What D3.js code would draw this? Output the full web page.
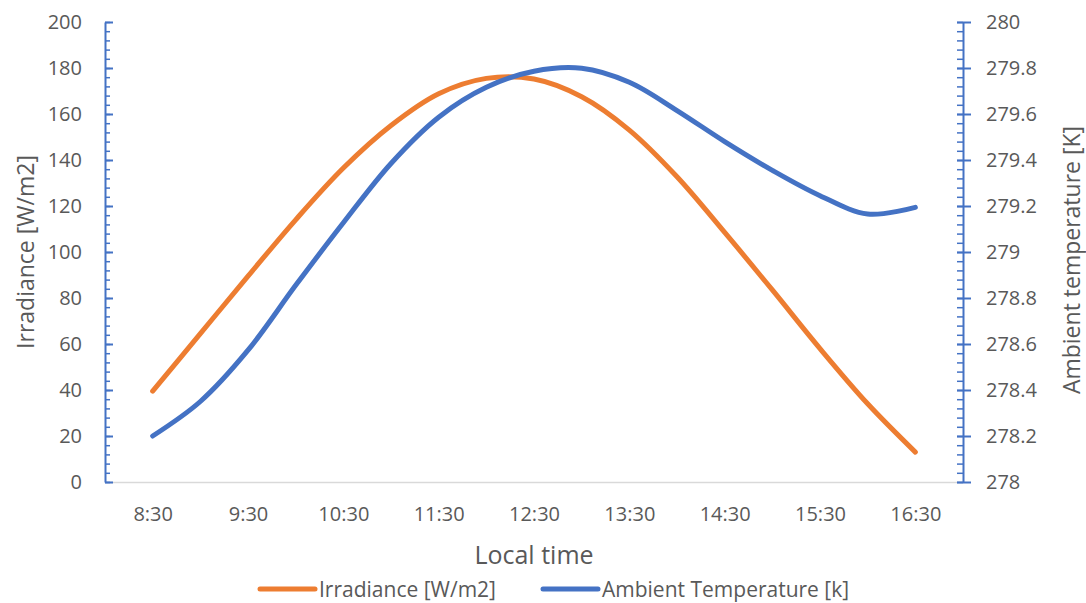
<!DOCTYPE html>
<html>
<head>
<meta charset="utf-8">
<script src="https://cdn.jsdelivr.net/npm/d3@7"></script>
<style>
	body { margin: 0; background: #fff; }
	text { font-family: "Open Sans", sans-serif; fill: #595959; }
</style>
</head>
<body>
<svg width="1086" height="603"></svg>
<script>
// data, every half hour
var times = ["8:30", "9:00", "9:30", "10:00", "10:30", "11:00", "11:30", "12:00", "12:30",
			"13:00", "13:30", "14:00", "14:30", "15:00", "15:30", "16:00", "16:30"];
var irradiance = [39.5, 64.5, 89.5, 114, 136.5, 155, 168.8, 175.5, 175.2,
			167.5, 153, 132.7, 108.5, 83.5, 58, 34, 13];
var temperature = [278.20, 278.35, 278.573, 278.855, 279.127, 279.385, 279.586, 279.716, 279.786,
			279.799, 279.738, 279.615, 279.48, 279.355, 279.245, 279.165, 279.194];
var hourLabels = ["8:30", "9:30", "10:30", "11:30", "12:30", "13:30", "14:30", "15:30", "16:30"];

var leftTicks = [0, 20, 40, 60, 80, 100, 120, 140, 160, 180, 200];
var rightTicks = [278, 278.2, 278.4, 278.6, 278.8, 279, 279.2, 279.4, 279.6, 279.8, 280];

var seriesNames = ["Irradiance [W/m2]", "Ambient Temperature [k]"];
var orange = "#ED7D31",
	blue = "#4472C4";

// The svg
var svg = d3.select("svg");

var plotLeft = 105, plotRight = 963, plotTop = 22, plotBottom = 482;

// turns "9:30" into 9.5
var toHours = function(t) {
	var p = t.split(":");
	return +p[0] + (+p[1]) / 60;
};

var x = d3.scaleLinear()
	.domain([8, 17])
	.range([plotLeft, plotRight]);

var yLeft = d3.scaleLinear()
	.domain([0, 200])
	.range([plotBottom, plotTop]);

var yRight = d3.scaleLinear()
	.domain([278, 280])
	.range([plotBottom, plotTop]);

// minor ticks
var minorLeft = d3.range(0, 201, 4);
var minorRight = d3.range(0, 51).map(function(i) { return 278 + i * 0.04; });

// x axis (grey line + labels)
svg.append("g")
	.attr("transform", "translate(0," + plotBottom + ")")
	.call(d3.axisBottom(x)
		.tickValues(hourLabels.map(toHours))
		.tickFormat(function(d, i) { return hourLabels[i]; })
		.tickSize(0)
		.tickPadding(25))
	.call(function(g) {
		g.select(".domain").attr("stroke", "#d9d9d9").attr("stroke-width", 1.5);
		g.selectAll("text").style("font-size", "20px");
	});

// left axis
svg.append("g")
	.attr("transform", "translate(" + plotLeft + ",0)")
	.call(d3.axisLeft(yLeft)
		.tickValues(minorLeft)
		.tickFormat("")
		.tickSizeInner(-5)
		.tickSizeOuter(0))
	.call(function(g) {
		g.select(".domain").remove();
		g.selectAll("line").attr("stroke", blue).attr("stroke-width", 1.5);
	});

svg.append("g")
	.attr("transform", "translate(" + plotLeft + ",0)")
	.call(d3.axisLeft(yLeft)
		.tickValues(leftTicks)
		.tickSizeInner(-8)
		.tickSizeOuter(0)
		.tickPadding(23))
	.call(function(g) {
		g.select(".domain").attr("stroke", blue).attr("stroke-width", 2);
		g.selectAll("line").attr("stroke", blue).attr("stroke-width", 2);
		g.selectAll("text").style("font-size", "20px");
	});

// right axis
svg.append("g")
	.attr("transform", "translate(" + plotRight + ",0)")
	.call(d3.axisRight(yRight)
		.tickValues(minorRight)
		.tickFormat("")
		.tickSizeInner(-6)
		.tickSizeOuter(0))
	.call(function(g) {
		g.select(".domain").remove();
		g.selectAll("line").attr("stroke", blue).attr("stroke-width", 1.5);
	});

svg.append("g")
	.attr("transform", "translate(" + plotRight + ",0)")
	.call(d3.axisRight(yRight)
		.tickValues(rightTicks)
		.tickFormat(d3.format("~r"))
		.tickSizeInner(8)
		.tickSizeOuter(0)
		.tickPadding(15))
	.call(function(g) {
		g.select(".domain").attr("stroke", blue).attr("stroke-width", 2);
		g.selectAll("line").attr("x1", -6).attr("stroke", blue).attr("stroke-width", 2);
		g.selectAll("text").style("font-size", "20px");
	});

// lines
var irrLine = d3.line()
	.x(function(d, i) { return x(toHours(times[i])); })
	.y(function(d) { return yLeft(d); })
	.curve(d3.curveCatmullRom);

var tempLine = d3.line()
	.x(function(d, i) { return x(toHours(times[i])); })
	.y(function(d) { return yRight(d); })
	.curve(d3.curveCatmullRom);

svg.append("path")
	.datum(irradiance)
	.attr("d", irrLine)
	.attr("fill", "none")
	.attr("stroke", orange)
	.attr("stroke-width", 5)
	.attr("stroke-linecap", "round");

svg.append("path")
	.datum(temperature)
	.attr("d", tempLine)
	.attr("fill", "none")
	.attr("stroke", blue)
	.attr("stroke-width", 5)
	.attr("stroke-linecap", "round");

// axis titles
svg.append("text")
	.attr("x", (plotLeft + plotRight) / 2)
	.attr("y", 564)
	.attr("text-anchor", "middle")
	.style("font-size", "25px")
	.text("Local time");

svg.append("text")
	.attr("transform", "translate(34," + (plotTop + plotBottom) / 2 + ") rotate(-90)")
	.attr("text-anchor", "middle")
	.style("font-size", "23px")
	.text("Irradiance [W/m2]");

svg.append("text")
	.attr("transform", "translate(1080,260) rotate(-90)")
	.attr("text-anchor", "middle")
	.style("font-size", "23px")
	.text("Ambient temperature [K]");

// legend
var legend = svg.append("g");
var legendX = [260, 543];
var legendColors = [orange, blue];

seriesNames.forEach(function(name, i) {
	legend.append("line")
		.attr("x1", legendX[i])
		.attr("x2", legendX[i] + 55)
		.attr("y1", 589)
		.attr("y2", 589)
		.attr("stroke", legendColors[i])
		.attr("stroke-width", 5)
		.attr("stroke-linecap", "round");
	legend.append("text")
		.attr("x", legendX[i] + 59)
		.attr("y", 597)
		.style("font-size", "21px")
		.text(name);
});
</script>
</body>
</html>
